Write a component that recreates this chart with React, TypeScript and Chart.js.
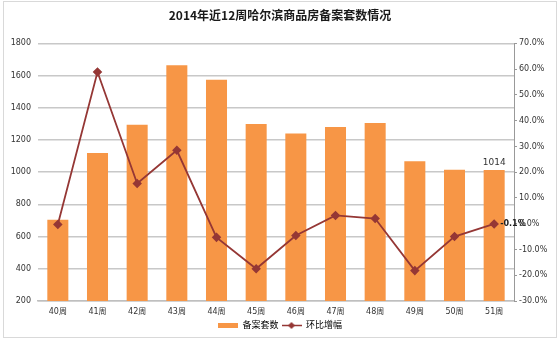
import React, { useEffect, useRef } from "react";
import { Chart, registerables } from "chart.js";

Chart.register(...registerables);

const titleText = "2014年近12周哈尔滨商品房备案套数情况";
const weeks = ["40周", "41周", "42周", "43周", "44周", "45周", "46周", "47周", "48周", "49周", "50周", "51周"];
const filingCounts = [705, 1120, 1295, 1664, 1575, 1300, 1240, 1281, 1306, 1068, 1015, 1014];
const changePct = [-0.3, 58.9, 15.6, 28.5, -5.3, -17.5, -4.6, 3.2, 2.0, -18.2, -5.0, -0.1];
const barLabel = "备案套数";
const lineLabel = "环比增幅";
const leftTicks = { min: 200, max: 1800, step: 200 };
const rightTicks = { min: -30, max: 70, step: 10 };

const ORANGE = "#F79646";
const RED = "#953735";
const FONT = '"DejaVu Sans", "Noto Sans CJK SC", sans-serif';

function makeLegendIcon(kind: "bar" | "line"): HTMLCanvasElement {
  const c = document.createElement("canvas");
  c.width = 20;
  c.height = 9;
  const g = c.getContext("2d")!;
  if (kind === "bar") {
    g.fillStyle = ORANGE;
    g.fillRect(0, 2, 20, 5);
  } else {
    g.strokeStyle = RED;
    g.lineWidth = 1.5;
    g.beginPath();
    g.moveTo(0, 4.5);
    g.lineTo(20, 4.5);
    g.stroke();
    g.fillStyle = RED;
    g.beginPath();
    g.moveTo(10, 1);
    g.lineTo(13.5, 4.5);
    g.lineTo(10, 8);
    g.lineTo(6.5, 4.5);
    g.closePath();
    g.fill();
  }
  return c;
}

const framePlugin = {
  id: "frame",
  beforeDraw(chart: any) {
    const ctx = chart.ctx;
    ctx.save();
    ctx.fillStyle = "#ffffff";
    ctx.fillRect(0, 0, chart.width, chart.height);
    ctx.strokeStyle = "#d9d9d9";
    ctx.lineWidth = 1;
    ctx.strokeRect(3.5, 1.5, chart.width - 7, chart.height - 4);
    ctx.restore();
  },
};

const labelPlugin = {
  id: "lastLabels",
  afterDatasetsDraw(chart: any) {
    const ctx = chart.ctx;
    const barMeta = chart.getDatasetMeta(0);
    const lineMeta = chart.getDatasetMeta(1);
    const last = filingCounts.length - 1;
    ctx.save();
    ctx.font = `9px ${FONT}`;
    ctx.fillStyle = "#333333";
    const bar = barMeta.data[last];
    ctx.textAlign = "center";
    ctx.textBaseline = "bottom";
    ctx.fillText(String(filingCounts[last]), bar.x, bar.y - 3);
    const pt = lineMeta.data[last];
    ctx.textAlign = "left";
    ctx.textBaseline = "middle";
    ctx.font = `bold 8px ${FONT}`;
    ctx.fillStyle = "#222222";
    ctx.fillText(changePct[last].toFixed(1) + "%", pt.x + 6, pt.y);
    ctx.restore();
  },
};

export default function App() {
  const ref = useRef<HTMLCanvasElement | null>(null);
  useEffect(() => {
    document.body.style.margin = "0";
    const barIcon = makeLegendIcon("bar");
    const lineIcon = makeLegendIcon("line");
    const chart = new Chart(ref.current!, {
      type: "bar",
      data: {
        labels: weeks,
        datasets: [
          {
            type: "bar",
            label: barLabel,
            data: filingCounts,
            backgroundColor: ORANGE,
            yAxisID: "y",
            categoryPercentage: 1,
            barPercentage: 0.53,
            order: 2,
          },
          {
            type: "line",
            label: lineLabel,
            data: changePct,
            borderColor: RED,
            backgroundColor: RED,
            borderWidth: 1.8,
            pointStyle: "rectRot",
            pointRadius: 3.5,
            pointBackgroundColor: RED,
            pointBorderColor: RED,
            yAxisID: "y1",
            tension: 0,
            order: 1,
          } as any,
        ],
      },
      options: {
        animation: false,
        responsive: true,
        maintainAspectRatio: false,
        layout: { padding: { left: 0, right: 0, top: 0, bottom: 0 } },
        plugins: {
          title: {
            display: true,
            text: titleText,
            color: "#1a1a1a",
            font: { family: '"Noto Sans CJK SC", serif', size: 12, weight: "bold" },
            padding: { top: 8, bottom: 21 },
          },
          legend: {
            display: true,
            position: "bottom",
            labels: {
              usePointStyle: true,
              pointStyleWidth: 20,
              boxHeight: 9,
              padding: 3,
              color: "#333333",
              font: { family: FONT, size: 9 },
              generateLabels: () => [
                { text: barLabel, pointStyle: barIcon, fillStyle: ORANGE, strokeStyle: ORANGE, lineWidth: 0, hidden: false, datasetIndex: 0 } as any,
                { text: lineLabel, pointStyle: lineIcon, fillStyle: RED, strokeStyle: RED, lineWidth: 0, hidden: false, datasetIndex: 1 } as any,
              ],
            },
          },
          tooltip: { enabled: false },
        },
        scales: {
          x: {
            grid: { display: false, drawTicks: false },
            border: { display: true, color: "#bfbfbf", width: 1.5 },
            ticks: { color: "#333333", font: { family: FONT, size: 8 }, padding: 6, maxRotation: 0 },
            afterFit: (s: any) => {
              s.height = 17;
            },
          },
          y: {
            position: "left",
            min: leftTicks.min,
            max: leftTicks.max,
            ticks: {
              stepSize: leftTicks.step,
              color: "#333333",
              font: { family: FONT, size: 8 },
              padding: 7,
              callback: (v: any) => String(v),
            },
            grid: { color: "#c8c8c8", lineWidth: 1.5, drawTicks: false },
            border: { display: false },
            afterFit: (s: any) => {
              s.width = 38;
            },
          },
          y1: {
            position: "right",
            min: rightTicks.min,
            max: rightTicks.max,
            ticks: {
              stepSize: rightTicks.step,
              color: "#333333",
              font: { family: FONT, size: 8 },
              padding: 2,
              callback: (v: any) => Number(v).toFixed(1) + "%",
            },
            grid: { drawOnChartArea: false, drawTicks: true, tickLength: 3, color: "#999999" },
            border: { display: true, color: "#999999", width: 1 },
            afterFit: (s: any) => {
              s.width = 46;
            },
          },
        },
      },
      plugins: [framePlugin, labelPlugin],
    });
    return () => chart.destroy();
  }, []);
  return (
    <div style={{ position: "fixed", left: 0, top: 0, width: 560, height: 340 }}>
      <canvas ref={ref} />
    </div>
  );
}
